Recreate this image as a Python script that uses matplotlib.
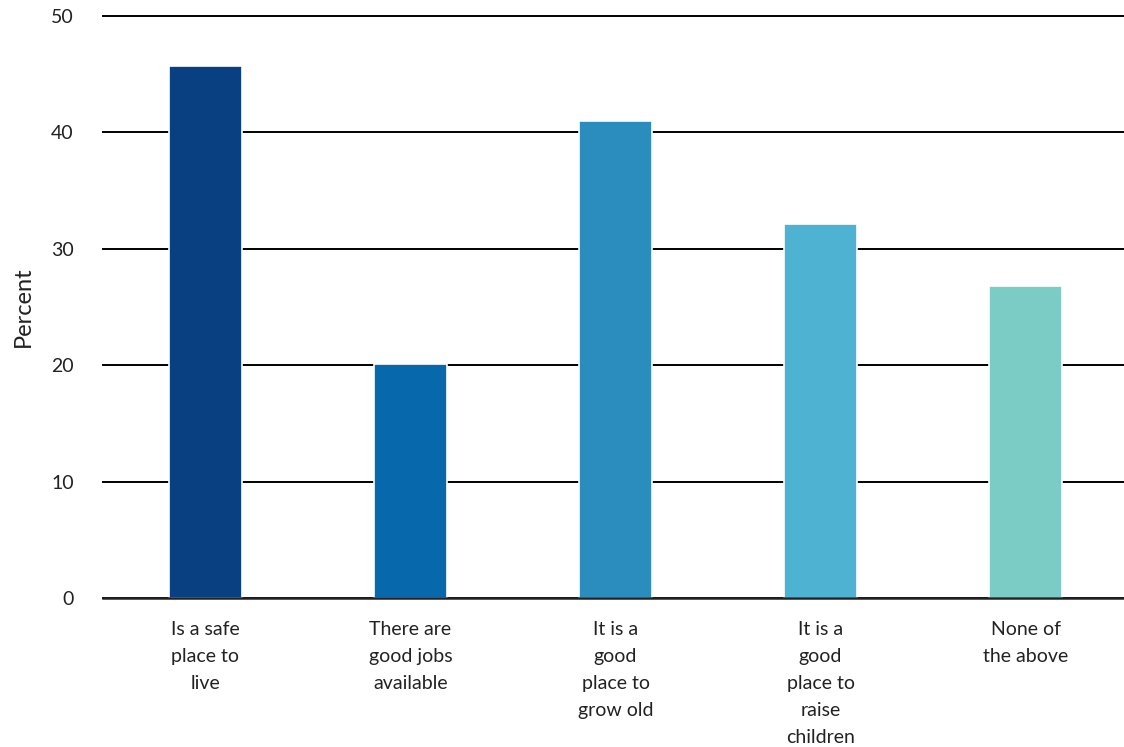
import matplotlib
matplotlib.use("Agg")
import matplotlib.pyplot as plt

categories = ["Is a safe\nplace to\nlive", "There are\ngood jobs\navailable",
              "It is a\ngood\nplace to\ngrow old", "It is a\ngood\nplace to\nraise\nchildren",
              "None of\nthe above"]
values = [45.7, 20.1, 41.0, 32.1, 26.8]
colors = ["#084081", "#0868ac", "#2b8cbe", "#4eb3d3", "#7bccc4"]
yticks = [0, 10, 20, 30, 40, 50]

plt.rcParams['font.family'] = ['Lato', 'DejaVu Sans']

fig = plt.figure(figsize=(11.24, 7.47), dpi=100)
ax = fig.add_axes([0.0916, 0.1995, 0.9084, 0.7791])

x = list(range(len(categories)))
ax.bar(x, values, width=0.355, color=colors, edgecolor="white", linewidth=1.2, zorder=3)

ax.set_ylim(0, 50)
ax.set_xlim(-0.5, 4.48)
ax.set_yticks(yticks)
ax.set_xticks(x)
ax.set_xticklabels(categories, fontsize=14, linespacing=1.72, color="#222222")
ax.tick_params(axis='both', length=0)
ax.tick_params(axis='y', pad=21, labelsize=14, labelcolor="#222222")
ax.tick_params(axis='x', pad=16.5)
ax.grid(axis='y', color='black', linewidth=1.4, zorder=1)
for gl in ax.get_ygridlines():
    gl.set_clip_on(False)
ax.set_axisbelow(True)
for s in ['top', 'right', 'left']:
    ax.spines[s].set_visible(False)
ax.spines['bottom'].set_color('#222222')
ax.spines['bottom'].set_linewidth(1.8)
ax.spines['bottom'].set_zorder(4)
ax.set_ylabel("Percent", fontsize=17, color="#222222")
ax.yaxis.set_label_coords(-0.068, 0.5)

fig.savefig("out.png", dpi=100)
